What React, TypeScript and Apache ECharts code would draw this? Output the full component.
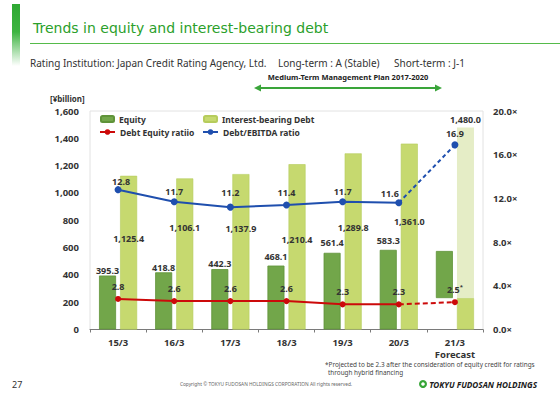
import React, { useEffect, useRef } from 'react';
import * as echarts from 'echarts';

const categories = ['15/3', '16/3', '17/3', '18/3', '19/3', '20/3', '21/3\nForecast'];
const equity = [395.3, 418.8, 442.3, 468.1, 561.4, 583.3, 575];
const hybridPortion = [0, 0, 0, 0, 0, 0, 230];
const interestBearingDebt = [1125.4, 1106.1, 1137.9, 1210.4, 1289.8, 1361.0, 1480.0];
const debtEquityRatio = [2.8, 2.6, 2.6, 2.6, 2.3, 2.3, 2.5];
const debtEbitdaRatio = [12.8, 11.7, 11.2, 11.4, 11.7, 11.6, 16.9];
const leftAxis = { min: 0, max: 1600, interval: 200 };
const rightAxis = { min: 0, max: 20, interval: 4 };
const forecastIndex = 6;

// label placement styles (pixels)
const eqLabelDist = [1, 0, 1.5, 5, 6, 5, 0];
const ibdLabelY = [63, 49, 54, 75, 74, 78, 0];
const ebitdaLabelDist = [0.5, 2.5, 6.5, 4.5, 2.5, 1.5, 3];
const ebitdaLabelDx = [3, 0, 0, 0, 0, -9, 0];

const FONT = 'Noto Sans';
const fmt1 = (v: number) => v.toLocaleString('en-US', { minimumFractionDigits: 1, maximumFractionDigits: 1 });

const C_EQ = '#72a64a';
const C_EQ_B = '#5f9339';
const C_IBD = '#c6d96f';
const C_IBD_B = '#b6cc5c';
const C_IBD_F = '#e5edc6';
const C_RED = '#cc0a0a';
const C_BLUE = '#1f4fae';
const C_GREEN = '#2ba02b';

const lblBase = { fontFamily: FONT, fontWeight: 'bold' as const, fontSize: 9, color: '#333' };

export default function App() {
  const ref = useRef<HTMLDivElement>(null);
  useEffect(() => {
    if (!ref.current) return;
    const chart = echarts.init(ref.current, undefined, { renderer: 'svg' });
    const eqBase = hybridPortion;
    const eqVisible = equity.map((v, i) => v - eqBase[i]);
    const ibdLower = interestBearingDebt.map((v, i) => (i === forecastIndex ? hybridPortion[i] : v));
    const ibdUpper = interestBearingDebt.map((v, i) => (i === forecastIndex ? v - hybridPortion[i] : null));

    const legendCommon = {
      orient: 'horizontal' as const,
      padding: 0,
      itemGap: 4,
      textStyle: { fontFamily: FONT, fontWeight: 'bold' as const, fontSize: 8.5, color: '#333' },
      selectedMode: false,
    };

    const option: any = {
      animation: false,
      backgroundColor: '#fff',
      grid: { left: 90, right: 77, top: 111, bottom: 66.5, show: true, borderColor: '#e2e2e2', borderWidth: 1, containLabel: false },
      legend: [
        { ...legendCommon, left: 100, top: 114.5, itemWidth: 13, itemHeight: 6, data: ['Equity'] },
        { ...legendCommon, left: 203, top: 114.5, itemWidth: 13, itemHeight: 6, data: ['Interest-bearing Debt'] },
        { ...legendCommon, left: 99, top: 127.5, itemWidth: 15, itemHeight: 7, data: ['Debt Equity ratiio'] },
        { ...legendCommon, left: 202, top: 127.5, itemWidth: 15, itemHeight: 7, data: ['Debt/EBITDA ratio'] },
      ],
      xAxis: {
        type: 'category',
        data: categories,
        boundaryGap: true,
        axisLine: { lineStyle: { color: '#7a7a7a', width: 1 } },
        axisTick: { show: true, alignWithLabel: false, length: 3, lineStyle: { color: '#7a7a7a' } },
        axisLabel: { fontFamily: FONT, fontWeight: 'bold', fontSize: 9.5, color: '#333', margin: 7, lineHeight: 12, interval: 0 },
        splitLine: { show: false },
      },
      yAxis: [
        {
          type: 'value',
          min: leftAxis.min,
          max: leftAxis.max,
          interval: leftAxis.interval,
          axisLine: { show: false },
          axisTick: { show: false },
          splitLine: { show: false },
          axisLabel: {
            fontFamily: FONT, fontWeight: 'bold', fontSize: 9.5, color: '#333', margin: 11,
            formatter: (v: number) => v.toLocaleString('en-US'),
          },
        },
        {
          type: 'value',
          min: rightAxis.min,
          max: rightAxis.max,
          interval: rightAxis.interval,
          axisLine: { show: false },
          axisTick: { show: false },
          splitLine: { show: false },
          axisLabel: {
            fontFamily: FONT, fontWeight: 'bold', fontSize: 9.5, color: '#333', margin: 10,
            formatter: (v: number) => v.toFixed(1) + '×',
          },
        },
      ],
      series: [
        {
          name: 'eqBase', type: 'bar', stack: 'eq', barWidth: 17, barGap: '24%', silent: true,
          itemStyle: { color: 'transparent' }, data: eqBase,
        },
        {
          name: 'Equity', type: 'bar', stack: 'eq', barWidth: 17, barGap: '24%',
          itemStyle: { color: C_EQ, borderColor: C_EQ_B, borderWidth: 0.8 },
          data: eqVisible.map((v, i) => ({
            value: v,
            label: { show: i !== forecastIndex, position: 'top', distance: eqLabelDist[i] },
          })),
          label: { ...lblBase, formatter: (p: any) => fmt1(equity[p.dataIndex]) },
        },
        {
          name: 'Interest-bearing Debt', type: 'bar', stack: 'ibd', barWidth: 17, barGap: '24%',
          itemStyle: { color: C_IBD, borderColor: C_IBD_B, borderWidth: 0.6 },
          data: ibdLower.map((v, i) => ({
            value: v,
            label: { show: i !== forecastIndex, position: ['50%', ibdLabelY[i]], align: 'center', verticalAlign: 'middle' },
          })),
          label: { ...lblBase, formatter: (p: any) => fmt1(interestBearingDebt[p.dataIndex]) },
        },
        {
          name: 'ibdForecast', type: 'bar', stack: 'ibd', barWidth: 17, barGap: '24%',
          itemStyle: { color: C_IBD_F },
          data: ibdUpper,
          label: { ...lblBase, show: true, position: 'top', distance: 3, formatter: (p: any) => fmt1(interestBearingDebt[p.dataIndex]) },
        },
        {
          name: 'Debt Equity ratiio', type: 'line', yAxisIndex: 1, symbol: 'circle', symbolSize: 6,
          itemStyle: { color: C_RED }, lineStyle: { color: C_RED, width: 2 },
          data: debtEquityRatio.map((v, i) => (i < forecastIndex ? v : null)),
          label: { ...lblBase, show: true, position: 'top', distance: 5, formatter: (p: any) => p.value.toFixed(1) },
          z: 5,
        },
        {
          name: 'deForecast', type: 'line', yAxisIndex: 1, symbol: 'circle', symbolSize: 6,
          itemStyle: { color: C_RED }, lineStyle: { color: C_RED, width: 2, type: [5, 3] },
          data: debtEquityRatio.map((v, i) => (i >= forecastIndex - 1 ? { value: v, symbolSize: i === forecastIndex ? 6 : 0 } : null)),
          label: {
            ...lblBase, show: true, position: 'top', distance: 5,
            formatter: (p: any) => (p.dataIndex === forecastIndex ? p.value.toFixed(1) + '{s|*}' : ''),
            rich: { s: { fontFamily: FONT, fontSize: 6, color: '#333', verticalAlign: 'top', padding: [0, 0, 4, 0] } },
          },
          z: 5,
        },
        {
          name: 'Debt/EBITDA ratio', type: 'line', yAxisIndex: 1, symbol: 'circle', symbolSize: 7,
          itemStyle: { color: C_BLUE }, lineStyle: { color: C_BLUE, width: 2 },
          data: debtEbitdaRatio.map((v, i) => (i < forecastIndex ? {
            value: v,
            label: { distance: ebitdaLabelDist[i], offset: [ebitdaLabelDx[i], 0] },
          } : null)),
          label: { ...lblBase, show: true, position: 'top', formatter: (p: any) => p.value.toFixed(1) },
          z: 5,
        },
        {
          name: 'ebitdaForecast', type: 'line', yAxisIndex: 1, symbol: 'circle', symbolSize: 7,
          itemStyle: { color: C_BLUE }, lineStyle: { color: C_BLUE, width: 2, type: [4, 3] },
          data: debtEbitdaRatio.map((v, i) => (i >= forecastIndex - 1 ? {
            value: v,
            symbolSize: i === forecastIndex ? 7 : 0,
            label: { show: i === forecastIndex, distance: ebitdaLabelDist[i] },
          } : null)),
          label: { ...lblBase, position: 'top', formatter: (p: any) => p.value.toFixed(1) },
          z: 5,
        },
      ],
      graphic: [
        {
          type: 'rect', left: 12, top: 4, shape: { width: 8, height: 62 },
          style: {
            fill: new echarts.graphic.LinearGradient(0, 0, 0, 1, [
              { offset: 0, color: '#2ea832' },
              { offset: 0.45, color: '#3db441' },
              { offset: 1, color: 'rgba(60,180,65,0)' },
            ]),
          },
        },
        {
          type: 'text', x: 33, y: 28,
          style: { text: 'Trends in equity and interest-bearing debt', fontFamily: 'DejaVu Sans', fontSize: 14, fill: C_GREEN, verticalAlign: 'middle' },
        },
        { type: 'line', shape: { x1: 30, y1: 43.5, x2: 560, y2: 43.5 }, style: { stroke: '#55bb4a', lineWidth: 1.2 } },
        {
          type: 'text', x: 30, y: 63,
          style: { text: 'Rating Institution: Japan Credit Rating Agency, Ltd.', fontFamily: FONT, fontSize: 10, fill: '#333', verticalAlign: 'middle' },
        },
        {
          type: 'text', x: 278, y: 63,
          style: { text: 'Long-term : A (Stable)', fontFamily: FONT, fontSize: 10, fill: '#333', verticalAlign: 'middle' },
        },
        {
          type: 'text', x: 394, y: 63,
          style: { text: 'Short-term : J-1', fontFamily: FONT, fontSize: 10, fill: '#333', verticalAlign: 'middle' },
        },
        {
          type: 'text', x: 348, y: 77,
          style: { text: 'Medium-Term Management Plan 2017-2020', fontFamily: FONT, fontWeight: 'bold', fontSize: 7.5, fill: '#222', align: 'center', verticalAlign: 'middle' },
        },
        { type: 'line', shape: { x1: 259, y1: 88, x2: 437, y2: 88 }, style: { stroke: '#3aa53a', lineWidth: 2 } },
        { type: 'polygon', shape: { points: [[254, 88], [261, 84.5], [261, 91.5]] }, style: { fill: '#3aa53a' } },
        { type: 'polygon', shape: { points: [[442, 88], [435, 84.5], [435, 91.5]] }, style: { fill: '#3aa53a' } },
        {
          type: 'text', x: 50, y: 98,
          style: { text: '[¥billion]', fontFamily: FONT, fontWeight: 'bold', fontSize: 8, fill: '#333', verticalAlign: 'middle' },
        },
        {
          type: 'text', x: 325, y: 364,
          style: { text: '*Projected to be 2.3 after the consideration of equity credit for ratings', fontFamily: FONT, fontSize: 6.4, fill: '#444', verticalAlign: 'middle' },
        },
        {
          type: 'text', x: 328, y: 372.5,
          style: { text: 'through hybrid financing', fontFamily: FONT, fontSize: 6.4, fill: '#444', verticalAlign: 'middle' },
        },
        {
          type: 'text', x: 12, y: 384,
          style: { text: '27', fontFamily: FONT, fontSize: 9, fill: '#333', verticalAlign: 'middle' },
        },
        {
          type: 'text', x: 266, y: 384,
          style: { text: 'Copyright © TOKYU FUDOSAN HOLDINGS CORPORATION All rights reserved.', fontFamily: FONT, fontSize: 4.8, fill: '#666', align: 'center', verticalAlign: 'middle' },
        },
        { type: 'ring', shape: { cx: 423, cy: 384, r: 4, r0: 1.8 }, style: { fill: '#36a536' } },
        {
          type: 'text', x: 537, y: 384,
          style: { text: 'TOKYU FUDOSAN HOLDINGS', fontFamily: FONT, fontWeight: 'bold', fontStyle: 'italic', fontSize: 8.2, fill: '#1a1a1a', align: 'right', verticalAlign: 'middle' },
        },
      ],
    };
    chart.setOption(option);
    return () => chart.dispose();
  }, []);
  return <div ref={ref} style={{ position: 'fixed', left: 0, top: 0, width: 560, height: 396 }} />;
}
